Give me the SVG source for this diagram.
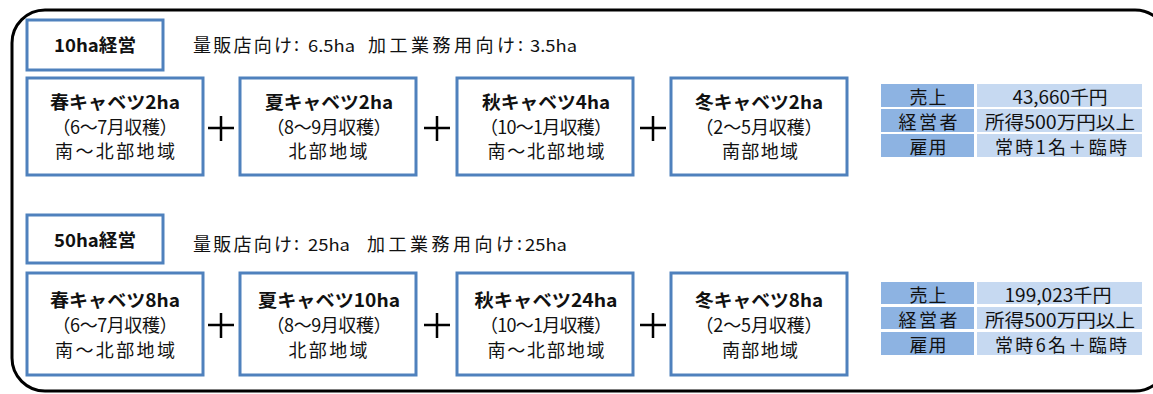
<svg xmlns="http://www.w3.org/2000/svg" width="1153" height="394" viewBox="0 0 1153 394">
<style>
.frame{fill:none;stroke:#000;stroke-width:3}
.box{fill:#fff;stroke:#4f81bd;stroke-width:3}
.t{font-family:"Noto Sans CJK JP","Noto Sans CJK SC",sans-serif;font-size:18px;fill:#111;text-anchor:middle}
.b{font-weight:bold}
.h{font-family:"Noto Sans CJK JP","Noto Sans CJK SC",sans-serif;font-size:18px;fill:#111}
.n{font-family:"Noto Sans CJK JP",sans-serif;font-size:16.5px;fill:#111}
.plus{stroke:#000;stroke-width:2.5}
.k{fill:#8db3e2}
.v{fill:#c6d9f1}
</style>
<rect class="frame" x="12" y="10" width="1156" height="381" rx="33"/>

<g id="sec1-header">
<rect class="box" x="27" y="20" width="136" height="50"/>
<text class="t b" x="95" y="52" textLength="82" lengthAdjust="spacingAndGlyphs">10ha経営</text>
<text class="h" x="193" y="52" textLength="99" lengthAdjust="spacing">量販店向け</text>
<text class="h" x="294" y="51">:</text>
<text class="n" x="308" y="52" textLength="47" lengthAdjust="spacingAndGlyphs">6.5ha</text>
<text class="h" x="368" y="52" textLength="147" lengthAdjust="spacing">加工業務用向け</text>
<text class="h" x="518" y="51">:</text>
<text class="n" x="530" y="52" textLength="47" lengthAdjust="spacingAndGlyphs">3.5ha</text>
</g>
<g id="sec1-spring">
<rect class="box" x="27" y="78" width="176" height="97"/>
<text class="t b" x="115" y="109" textLength="130" lengthAdjust="spacingAndGlyphs">春キャベツ2ha</text>
<text class="t" x="115" y="134" textLength="125" lengthAdjust="spacing">（6～7月収穫）</text>
<text class="t" x="115" y="158" textLength="120" lengthAdjust="spacing">南～北部地域</text>
</g>
<g id="sec1-summer">
<rect class="box" x="240" y="78" width="176" height="97"/>
<text class="t b" x="329" y="109" textLength="128" lengthAdjust="spacingAndGlyphs">夏キャベツ2ha</text>
<text class="t" x="329" y="134" textLength="125" lengthAdjust="spacing">（8～9月収穫）</text>
<text class="t" x="328" y="158" textLength="79" lengthAdjust="spacing">北部地域</text>
</g>
<g id="sec1-autumn">
<rect class="box" x="457" y="78" width="176" height="97"/>
<text class="t b" x="546" y="109" textLength="128" lengthAdjust="spacingAndGlyphs">秋キャベツ4ha</text>
<text class="t" x="546" y="134" textLength="132" lengthAdjust="spacing">（10～1月収穫）</text>
<text class="t" x="546" y="158" textLength="117" lengthAdjust="spacing">南～北部地域</text>
</g>
<g id="sec1-winter">
<rect class="box" x="671" y="78" width="176" height="97"/>
<text class="t b" x="759" y="109" textLength="128" lengthAdjust="spacingAndGlyphs">冬キャベツ2ha</text>
<text class="t" x="759" y="134" textLength="127" lengthAdjust="spacing">（2～5月収穫）</text>
<text class="t" x="760" y="158" textLength="76" lengthAdjust="spacing">南部地域</text>
</g>
<g id="sec1-table">
<rect class="k" x="881" y="84" width="93" height="23"/>
<rect class="v" x="977" y="84" width="165" height="23"/>
<rect class="k" x="881" y="109" width="93" height="23"/>
<rect class="v" x="977" y="109" width="165" height="23"/>
<rect class="k" x="881" y="134" width="93" height="23"/>
<rect class="v" x="977" y="134" width="165" height="23"/>
<text class="t" x="928" y="104" textLength="37" lengthAdjust="spacing">売上</text>
<text class="t" x="1060" y="104" textLength="95" lengthAdjust="spacingAndGlyphs">43,660千円</text>
<text class="t" x="928" y="129" textLength="59" lengthAdjust="spacing">経営者</text>
<text class="t" x="1060" y="129" textLength="150" lengthAdjust="spacingAndGlyphs">所得500万円以上</text>
<text class="t" x="928" y="154" textLength="37" lengthAdjust="spacing">雇用</text>
<text class="t" x="1061" y="154" textLength="132" lengthAdjust="spacing">常時1名＋臨時</text>
</g>

<g id="sec2-header">
<rect class="box" x="27" y="215" width="136" height="48"/>
<text class="t b" x="95" y="247" textLength="82" lengthAdjust="spacingAndGlyphs">50ha経営</text>
<text class="h" x="193" y="251" textLength="99" lengthAdjust="spacing">量販店向け</text>
<text class="h" x="294" y="250">:</text>
<text class="n" x="308" y="251" textLength="42" lengthAdjust="spacingAndGlyphs">25ha</text>
<text class="h" x="367" y="251" textLength="147" lengthAdjust="spacing">加工業務用向け</text>
<text class="h" x="517" y="250">:</text>
<text class="n" x="525" y="251" textLength="42" lengthAdjust="spacingAndGlyphs">25ha</text>
</g>
<g id="sec2-spring">
<rect class="box" x="27" y="273" width="176" height="102"/>
<text class="t b" x="115" y="307" textLength="130" lengthAdjust="spacingAndGlyphs">春キャベツ8ha</text>
<text class="t" x="115" y="332" textLength="125" lengthAdjust="spacing">（6～7月収穫）</text>
<text class="t" x="115" y="357" textLength="120" lengthAdjust="spacing">南～北部地域</text>
</g>
<g id="sec2-summer">
<rect class="box" x="240" y="273" width="176" height="102"/>
<text class="t b" x="329" y="307" textLength="142" lengthAdjust="spacingAndGlyphs">夏キャベツ10ha</text>
<text class="t" x="329" y="332" textLength="125" lengthAdjust="spacing">（8～9月収穫）</text>
<text class="t" x="328" y="357" textLength="79" lengthAdjust="spacing">北部地域</text>
</g>
<g id="sec2-autumn">
<rect class="box" x="457" y="273" width="176" height="102"/>
<text class="t b" x="546" y="307" textLength="143" lengthAdjust="spacingAndGlyphs">秋キャベツ24ha</text>
<text class="t" x="546" y="332" textLength="132" lengthAdjust="spacing">（10～1月収穫）</text>
<text class="t" x="546" y="357" textLength="117" lengthAdjust="spacing">南～北部地域</text>
</g>
<g id="sec2-winter">
<rect class="box" x="671" y="273" width="176" height="102"/>
<text class="t b" x="759" y="307" textLength="128" lengthAdjust="spacingAndGlyphs">冬キャベツ8ha</text>
<text class="t" x="759" y="332" textLength="127" lengthAdjust="spacing">（2～5月収穫）</text>
<text class="t" x="760" y="357" textLength="76" lengthAdjust="spacing">南部地域</text>
</g>
<g id="sec2-table">
<rect class="k" x="881" y="282" width="93" height="22"/>
<rect class="v" x="977" y="282" width="165" height="22"/>
<rect class="k" x="881" y="307" width="93" height="22"/>
<rect class="v" x="977" y="307" width="165" height="22"/>
<rect class="k" x="881" y="332" width="93" height="23"/>
<rect class="v" x="977" y="332" width="165" height="23"/>
<text class="t" x="928" y="302" textLength="37" lengthAdjust="spacing">売上</text>
<text class="t" x="1058" y="302" textLength="107" lengthAdjust="spacingAndGlyphs">199,023千円</text>
<text class="t" x="928" y="327" textLength="59" lengthAdjust="spacing">経営者</text>
<text class="t" x="1060" y="327" textLength="150" lengthAdjust="spacingAndGlyphs">所得500万円以上</text>
<text class="t" x="928" y="352" textLength="37" lengthAdjust="spacing">雇用</text>
<text class="t" x="1061" y="352" textLength="132" lengthAdjust="spacing">常時6名＋臨時</text>
</g>

<g id="connectors">
<path class="plus" d="M208 128H234M221 116V141"/>
<path class="plus" d="M424 128H450M437 116V141"/>
<path class="plus" d="M640 128H666M653 116V141"/>
<path class="plus" d="M208 325H234M221 313V338"/>
<path class="plus" d="M424 325H450M437 313V338"/>
<path class="plus" d="M640 325H666M653 313V338"/>
</g>
</svg>
